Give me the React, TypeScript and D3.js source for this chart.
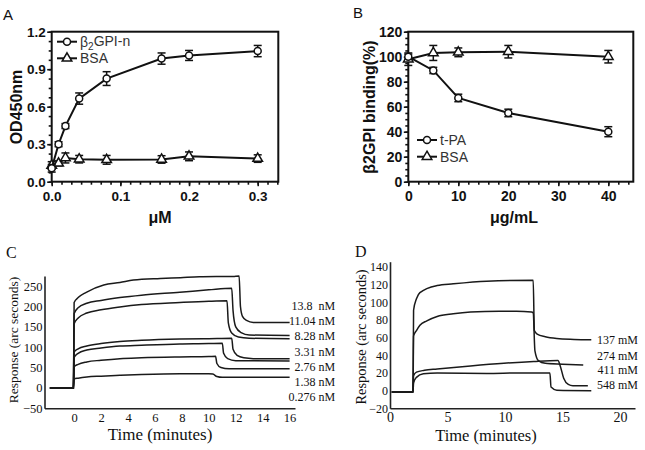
import React, { useRef, useEffect } from "react";
import * as d3 from "d3";

const W = 645;
const H = 450;
const sans = "'Liberation Sans', Arial, sans-serif";
const serif = "'Liberation Serif', 'Times New Roman', serif";

// ---- panel A : OD450 vs concentration (uM)
const aConc = [0, 0.01, 0.02, 0.04, 0.08, 0.16, 0.2, 0.3];
const aB2gpi = [0.107, 0.3, 0.445, 0.665, 0.825, 0.985, 1.01, 1.045];
const aB2gpiErr = [0.03, 0.02, 0.02, 0.045, 0.055, 0.045, 0.04, 0.045];
const aBsa = [0.13, 0.147, 0.19, 0.18, 0.175, 0.178, 0.203, 0.185];
const aBsaErr = [0.03, 0.02, 0.04, 0.03, 0.035, 0.03, 0.035, 0.03];
const aXTicks = [0, 0.1, 0.2, 0.3];
const aYTicks = [0, 0.3, 0.6, 0.9, 1.2];

// ---- panel B : binding (%) vs ug/mL
const bConc = [0, 5, 10, 20, 40];
const bTpa = [100, 89, 67, 55, 40];
const bTpaErr = [2, 2.5, 3, 3, 4];
const bBsa = [98, 103, 103.5, 104, 100];
const bBsaErr = [5, 6, 3.5, 5, 5];
const bXTicks = [0, 10, 20, 30, 40];
const bYTicks = [0, 20, 40, 60, 80, 100, 120];

// ---- panel C : sensorgrams [time (min), response]
const cCurve1 = [[-1.8, 0], [-0.05, 0], [0, 210], [0.3, 222], [0.9, 235], [2.2, 253], [3.4, 259], [4.4, 265], [6.4, 269], [7.9, 271], [9.3, 273], [11.8, 274], [12.25, 275], [12.35, 200], [12.5, 176], [12.8, 166], [13.3, 161], [16, 161]];
const cCurve2 = [[-1.8, 0], [-0.05, 0], [0, 183], [0.3, 197], [0.94, 208], [2, 215], [3.4, 222], [5, 228], [7.85, 235], [10, 241], [11.7, 245], [11.8, 190], [12, 150], [12.4, 136], [13, 130], [16, 129]];
const cCurve3 = [[-1.8, 0], [-0.05, 0], [0, 158], [0.3, 172], [0.94, 184], [2, 192], [3.4, 199], [5, 205], [7.85, 210], [10, 213], [11.35, 214], [11.45, 160], [11.7, 135], [12.2, 125], [13, 122], [16, 121]];
const cCurve4 = [[-1.8, 0], [-0.05, 0], [0, 88], [0.3, 96], [0.94, 103], [2, 109], [3.4, 114], [5, 117], [7.85, 120], [10, 121], [11.7, 122], [11.8, 95], [12.1, 80], [12.6, 74], [13.3, 72], [16, 72]];
const cCurve5 = [[-1.8, 0], [-0.05, 0], [0, 75], [0.3, 85], [0.94, 93], [2, 98], [3.4, 103], [5, 105], [7.85, 108], [10, 109], [11, 110], [11.1, 85], [11.4, 72], [12, 67], [16, 66]];
const cCurve6 = [[-1.8, 0], [-0.05, 0], [0, 52], [0.3, 58], [0.94, 64], [2, 68], [3.4, 72], [5, 74], [7.85, 76], [10, 77], [10.5, 78], [10.6, 60], [10.9, 50], [11.5, 47], [16, 47]];
const cCurve7 = [[-1.8, 0], [-0.05, 0], [0, 22], [0.3, 24], [0.94, 27], [2, 29], [3.4, 31], [5, 33], [7.85, 35], [10, 35], [10.3, 34], [10.6, 28], [11, 26], [16, 26]];
const cLabels = ["13.8  nM", "11.04 nM", "8.28 nM", "3.31 nM", "2.76 nM", "1.38 nM", "0.276 nM"];
const cLabelAt = [201, 164, 127, 90, 53, 16, -21];
const cXTicks = [0, 2, 4, 6, 8, 10, 12, 14, 16];
const cYTicks = [-50, 0, 50, 100, 150, 200, 250];

// ---- panel D : sensorgrams [time (min), response]
const dCurve1 = [[0.15, -1.5], [2.0, -1.5], [2.05, 91], [2.3, 104], [2.6, 111], [4.1, 119], [5.5, 121], [8.4, 124], [12.45, 125], [12.55, 68], [12.8, 64], [13.5, 61], [14.5, 59], [16, 58], [17.5, 57.5]];
const dCurve2 = [[0.15, -1.5], [2.0, -1.5], [2.05, 62], [2.3, 68], [2.6, 74], [3.2, 79], [4.1, 84], [5.5, 87], [7, 89], [9.5, 90], [11, 90], [12.3, 89], [12.45, 88], [12.6, 45], [12.9, 34], [13.5, 31], [15, 30], [16.8, 29]];
const dCurve3 = [[0.15, -1.5], [2.0, -1.5], [2.05, 17], [2.3, 21], [3, 23], [4.1, 24.5], [7, 28], [9.9, 31], [12.5, 33], [14.6, 34], [14.8, 28], [15.1, 14], [15.5, 7], [15.9, 5.5], [17.2, 5.5]];
const dCurve4 = [[0.15, -1.5], [2.0, -1.5], [2.05, 9], [2.3, 15], [2.9, 19], [4.1, 20], [8.4, 19.5], [11.3, 20], [13.9, 20], [14.0, 4], [14.5, 0.5], [17.5, 0]];
const dLabels = ["137 mM", "274 mM", "411 mM", "548 mM"];
const dLabelAt = [57.3, 39.2, 23.3, 7.1];
const dXTicks = [0, 5, 10, 15, 20];
const dYTicks = [-20, 0, 20, 40, 60, 80, 100, 120, 140];

function styleText(sel, family, size, weight = "normal") {
  sel.selectAll("text")
    .attr("font-family", family)
    .attr("font-size", size)
    .attr("font-weight", weight)
    .attr("fill", "#111");
}

// framed GraphPad-style axes with major + minor ticks
function boxAxes(g, x, y, xMajor, xMinorStep, yMajor, yMinorStep, fmtX, fmtY, fontSize) {
  const [x0, x1] = x.range();
  const [y0, y1] = y.range();
  const xd = x.domain();
  const yd = y.domain();
  const xMinor = d3.range(xd[0], xd[1] + 1e-9, xMinorStep);
  const yMinor = d3.range(yd[0], yd[1] + 1e-9, yMinorStep);

  g.append("rect")
    .attr("x", x0).attr("y", y1)
    .attr("width", x1 - x0).attr("height", y0 - y1)
    .attr("fill", "none").attr("stroke", "#111").attr("stroke-width", 2);

  const xm = g.append("g").attr("transform", `translate(0,${y0})`)
    .call(d3.axisBottom(x).tickValues(xMinor).tickSize(3).tickFormat(() => ""));
  const xM = g.append("g").attr("transform", `translate(0,${y0})`)
    .call(d3.axisBottom(x).tickValues(xMajor).tickSize(4.5).tickPadding(5).tickFormat(fmtX));
  const ym = g.append("g").attr("transform", `translate(${x0},0)`)
    .call(d3.axisLeft(y).tickValues(yMinor).tickSize(3).tickFormat(() => ""));
  const yM = g.append("g").attr("transform", `translate(${x0},0)`)
    .call(d3.axisLeft(y).tickValues(yMajor).tickSize(4.5).tickPadding(1.5).tickFormat(fmtY));

  [xm, xM, ym, yM].forEach(a => {
    a.select(".domain").remove();
    a.selectAll("line").attr("stroke", "#111").attr("stroke-width", 1.6);
    styleText(a, sans, fontSize, "bold");
  });
}

function series(g, x, y, xs, ys, errs, kind) {
  const line = d3.line<number>().x((_, i) => x(xs[i])).y(d => y(d));
  g.append("path").datum(ys).attr("d", line)
    .attr("fill", "none").attr("stroke", "#111").attr("stroke-width", 2);

  ys.forEach((v, i) => {
    const cx = x(xs[i]);
    const top = y(v + errs[i]);
    const bot = y(v - errs[i]);
    const e = g.append("g").attr("stroke", "#111").attr("stroke-width", 1.5);
    e.append("line").attr("x1", cx).attr("x2", cx).attr("y1", top).attr("y2", bot);
    e.append("line").attr("x1", cx - 4).attr("x2", cx + 4).attr("y1", top).attr("y2", top);
    e.append("line").attr("x1", cx - 4).attr("x2", cx + 4).attr("y1", bot).attr("y2", bot);
  });

  ys.forEach((v, i) => marker(g, x(xs[i]), y(v), kind));
}

function marker(g, cx, cy, kind) {
  if (kind === "circle") {
    g.append("circle").attr("cx", cx).attr("cy", cy).attr("r", 3.5)
      .attr("fill", "white").attr("stroke", "#111").attr("stroke-width", 1.5);
  } else {
    g.append("path")
      .attr("d", d3.symbol(d3.symbolTriangle, 40)())
      .attr("transform", `translate(${cx},${cy})`)
      .attr("fill", "white").attr("stroke", "#111").attr("stroke-width", 1.5);
  }
}

function legendRow(g, x, y, kind, build) {
  g.append("line").attr("x1", x).attr("x2", x + 20).attr("y1", y).attr("y2", y)
    .attr("stroke", "#111").attr("stroke-width", 2);
  marker(g, x + 10, y, kind);
  const t = g.append("text").attr("x", x + 23).attr("y", y).attr("dy", "0.36em")
    .attr("font-family", sans).attr("font-size", 14).attr("fill", "#333");
  build(t);
}

function drawA(svg) {
  const g = svg.append("g");
  const x = d3.scaleLinear().domain([0, 0.33]).range([51.7, 278.3]);
  const y = d3.scaleLinear().domain([0, 1.2]).range([181.7, 31.7]);
  boxAxes(g, x, y, aXTicks, 0.1 / 7, aYTicks, 0.075, d3.format(".1f"), d3.format(".1f"), 13.5);
  series(g, x, y, aConc, aBsa, aBsaErr, "triangle");
  series(g, x, y, aConc, aB2gpi, aB2gpiErr, "circle");

  legendRow(g, 57, 41.7, "circle", t => {
    t.append("tspan").text("β");
    t.append("tspan").attr("font-size", 10).attr("dy", "0.3em").text("2");
    t.append("tspan").attr("dy", "-0.3em").text("GPI-n");
  });
  legendRow(g, 57, 58.3, "triangle", t => t.text("BSA"));

  g.append("text").attr("transform", "translate(22,107) rotate(-90)")
    .attr("text-anchor", "middle").attr("font-family", sans).attr("font-weight", "bold")
    .attr("font-size", 16).attr("fill", "#111").text("OD450nm");
  g.append("text").attr("x", 160).attr("y", 223).attr("text-anchor", "middle")
    .attr("font-family", sans).attr("font-weight", "bold").attr("font-size", 16)
    .attr("fill", "#111").text("μM");
  g.append("text").attr("x", 3).attr("y", 20).attr("font-family", sans)
    .attr("font-size", 15).attr("fill", "#111").text("A");
}

function drawB(svg) {
  const g = svg.append("g");
  const x = d3.scaleLinear().domain([0, 45]).range([408.3, 633.3]);
  const y = d3.scaleLinear().domain([0, 120]).range([181.7, 31.7]);
  boxAxes(g, x, y, bXTicks, 2, bYTicks, 5, d3.format("d"), d3.format("d"), 14);
  series(g, x, y, bConc, bBsa, bBsaErr, "triangle");
  series(g, x, y, bConc, bTpa, bTpaErr, "circle");

  legendRow(g, 417, 140, "circle", t => t.text("t-PA"));
  legendRow(g, 417, 156.7, "triangle", t => t.text("BSA"));

  g.append("text").attr("transform", "translate(375,107) rotate(-90)")
    .attr("text-anchor", "middle").attr("font-family", sans).attr("font-weight", "bold")
    .attr("font-size", 16).attr("fill", "#111").text("β2GPI binding(%)");
  g.append("text").attr("x", 514).attr("y", 223).attr("text-anchor", "middle")
    .attr("font-family", sans).attr("font-weight", "bold").attr("font-size", 16)
    .attr("fill", "#111").text("μg/mL");
  g.append("text").attr("x", 353).attr("y", 18).attr("font-family", sans)
    .attr("font-size", 15).attr("fill", "#111").text("B");
}

function sensorAxes(g, x, y, xTicks, yTicks, xFont, yFont, xPad) {
  const ax = g.append("g").attr("transform", `translate(0,${y.range()[0]})`)
    .call(d3.axisBottom(x).tickValues(xTicks).tickSize(0).tickPadding(xPad).tickFormat(d3.format("d")));
  const ay = g.append("g").attr("transform", `translate(${x.range()[0]},0)`)
    .call(d3.axisLeft(y).tickValues(yTicks).tickSize(0).tickPadding(2).tickFormat(d3.format("d")));
  [ax, ay].forEach(a => a.select(".domain").attr("stroke", "#222").attr("stroke-width", 1.6));
  styleText(ax, serif, xFont);
  styleText(ay, serif, yFont);
}

function curves(g, x, y, list) {
  const line = d3.line<number[]>().x(d => x(d[0])).y(d => y(d[1])).curve(d3.curveMonotoneX);
  list.forEach(c => {
    g.append("path").datum(c).attr("d", line)
      .attr("fill", "none").attr("stroke", "#1a1a1a").attr("stroke-width", 1.5);
  });
}

function drawC(svg) {
  const g = svg.append("g");
  const x = d3.scaleLinear().domain([-2.2, 16.4]).range([44.5, 295]);
  const y = d3.scaleLinear().domain([-50, 275]).range([408.3, 276]);
  sensorAxes(g, x, y, cXTicks, cYTicks, 12.5, 12.5, 5);
  curves(g, x, y, [cCurve1, cCurve2, cCurve3, cCurve4, cCurve5, cCurve6, cCurve7]);

  cLabels.forEach((lab, i) => {
    g.append("text").attr("x", x(16) + 45.5).attr("y", y(cLabelAt[i])).attr("dy", "0.35em")
      .attr("text-anchor", "end").attr("font-family", serif).attr("font-size", 12)
      .attr("fill", "#111").style("white-space", "pre").text(lab);
  });

  g.append("text").attr("transform", "translate(18,340) rotate(-90)")
    .attr("text-anchor", "middle").attr("font-family", serif).attr("font-size", 13.5)
    .attr("fill", "#111").text("Response (arc seconds)");
  g.append("text").attr("x", 160).attr("y", 440).attr("text-anchor", "middle")
    .attr("font-family", serif).attr("font-size", 17).attr("fill", "#111").text("Time (minutes)");
  g.append("text").attr("x", 6).attr("y", 258).attr("font-family", serif)
    .attr("font-size", 16).attr("fill", "#111").text("C");
}

function drawD(svg) {
  const g = svg.append("g");
  const x = d3.scaleLinear().domain([0, 21.3]).range([390, 635]);
  const y = d3.scaleLinear().domain([-20, 146]).range([408.3, 261.7]);
  sensorAxes(g, x, y, dXTicks, dYTicks, 14, 12, 3.5);
  curves(g, x, y, [dCurve1, dCurve2, dCurve3, dCurve4]);

  dLabels.forEach((lab, i) => {
    g.append("text").attr("x", 638).attr("y", y(dLabelAt[i])).attr("dy", "0.35em")
      .attr("text-anchor", "end").attr("font-family", serif).attr("font-size", 12)
      .attr("fill", "#111").text(lab);
  });

  g.append("text").attr("transform", "translate(366,337) rotate(-90)")
    .attr("text-anchor", "middle").attr("font-family", serif).attr("font-size", 14.4)
    .attr("fill", "#111").text("Response (arc seconds)");
  g.append("text").attr("x", 486).attr("y", 441).attr("text-anchor", "middle")
    .attr("font-family", serif).attr("font-size", 16.5).attr("fill", "#111").text("Time (minutes)");
  g.append("text").attr("x", 355).attr("y", 257).attr("font-family", serif)
    .attr("font-size", 16).attr("fill", "#111").text("D");
}

const App = () => {
  const svgRef = useRef<SVGSVGElement>(null);

  useEffect(() => {
    const svg = d3.select(svgRef.current);
    svg.selectAll("*").remove();
    svg.append("rect").attr("width", W).attr("height", H).attr("fill", "white");
    drawA(svg);
    drawB(svg);
    drawC(svg);
    drawD(svg);
  }, []);

  return (
    <svg
      ref={svgRef}
      width={W}
      height={H}
      style={{ position: "absolute", left: 0, top: 0, display: "block" }}
    />
  );
};

export default App;
